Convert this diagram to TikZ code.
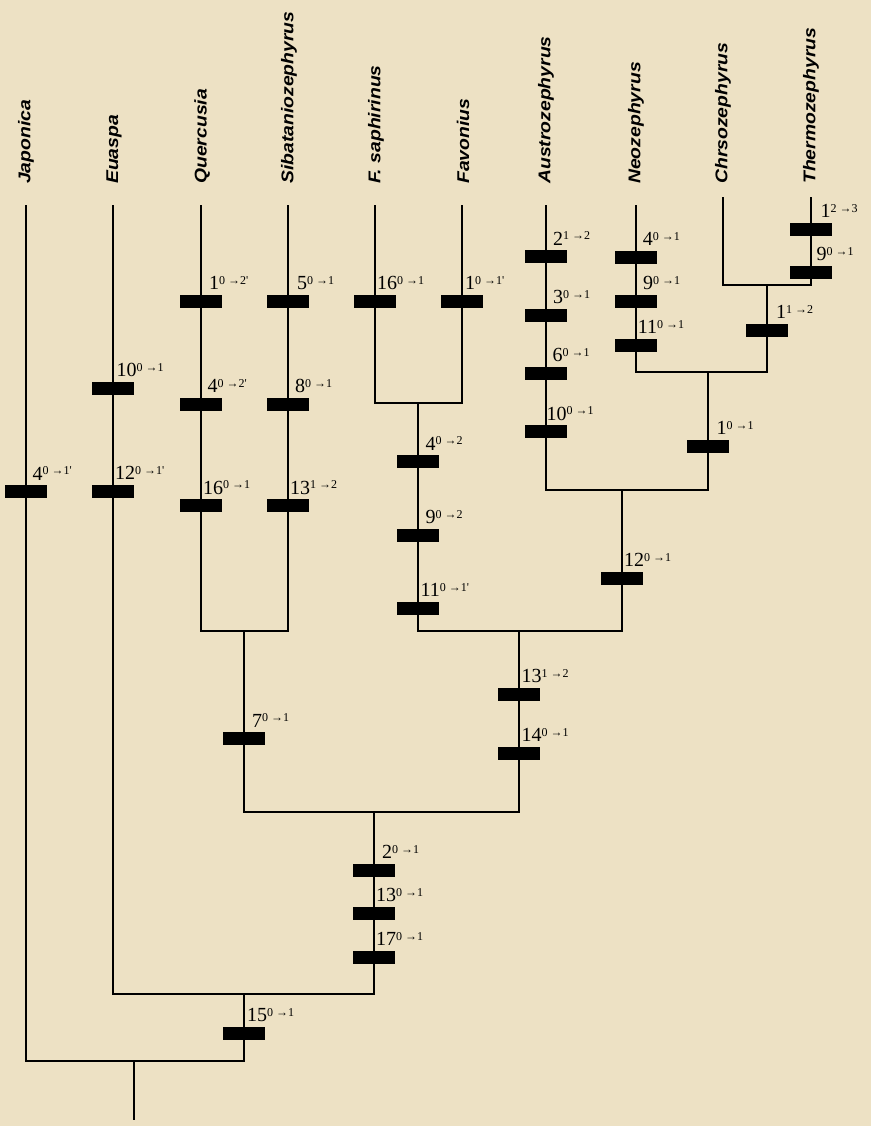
\documentclass[tikz,border=0pt]{standalone}
\usepackage{fontspec}
\setmainfont{Liberation Serif}
\newfontfamily\taxfont[FakeStretch=1.14]{Liberation Sans}
\definecolor{paper}{RGB}{237,225,196}
\newcommand\pr{\textquotesingle}
\newcommand\chg[3]{#1\raisebox{5.5pt}{\fontsize{12}{12}\selectfont #2\hspace{3pt}{\fontsize{12}{12}\selectfont →}#3}}
\newcommand\mut[5]{\node[bar] (#1) at (#2,#3) {};
  \node[lab] (#1l) at ([xshift=#4pt,yshift=11.5pt]#1.center) {#5};}
\tikzset{
  bar/.style={rectangle,fill=black,draw=none,inner sep=0pt,minimum width=42pt,minimum height=13pt},
  lab/.style={inner sep=0pt,anchor=base west,font=\fontsize{20}{20}\selectfont},
  taxon/.style={rotate=90,anchor=west,inner sep=0pt,font=\taxfont\bfseries\itshape\fontsize{17}{17}\selectfont},
  branch/.style={line width=2pt,draw=black}
}
\begin{document}
\begin{tikzpicture}[x=1pt,y=-1pt]
\fill[paper] (0,0) rectangle (871,1126);
% taxon names
\node[taxon] (nJ) at (26,184) {Japonica};
\node[taxon] (nE) at (114,184) {Euaspa};
\node[taxon] (nQ) at (202,184) {Quercusia};
\node[taxon] (nS) at (289,184) {Sibataniozephyrus};
\node[taxon] (nFs) at (376,184) {F. saphirinus};
\node[taxon] (nFv) at (463,184) {Favonius};
\node[taxon] (nAu) at (546,184) {Austrozephyrus};
\node[taxon] (nNe) at (636,184) {Neozephyrus};
\node[taxon] (nCh) at (723,184) {Chrsozephyrus};
\node[taxon] (nTh) at (811,184) {Thermozephyrus};
% tips
\coordinate (J) at (26,205);
\coordinate (E) at (113,205);
\coordinate (Q) at (201,205);
\coordinate (S) at (288,205);
\coordinate (Fs) at (375,205);
\coordinate (Fv) at (462,205);
\coordinate (Au) at (546,205);
\coordinate (Ne) at (636,205);
\coordinate (Ch) at (723,197);
\coordinate (Th) at (811,197);
% junctions
\coordinate (nR) at (134,1061);
\coordinate (base) at (134,1120);
\coordinate (n8) at (244,994);
\coordinate (n7) at (374,812);
\coordinate (n6) at (244,631);
\coordinate (n5) at (519,631);
\coordinate (n4) at (418,403);
\coordinate (n3) at (622,490);
\coordinate (n2) at (708,372);
\coordinate (n1) at (767,285);
% branches
\draw[branch] (J) |- (nR) -| (n8);
\draw[branch] (nR) -- (base);
\draw[branch] (E) |- (n8) -| (n7);
\draw[branch] (n6) |- (n7) -| (n5);
\draw[branch] (Q) |- (n6) -| (S);
\draw[branch] (n4) |- (n5) -| (n3);
\draw[branch] (Fs) |- (n4) -| (Fv);
\draw[branch] (Au) |- (n3) -| (n2);
\draw[branch] (Ne) |- (n2) -| (n1);
\draw[branch] (Ch) |- (n1) -| (Th);
% character changes
\mut{bJ}{26}{491.5}{6.5}{\chg{4}{0}{1\pr}}
\mut{bE1}{113}{388}{3.5}{\chg{10}{0}{1}}
\mut{bE2}{113}{491}{2}{\chg{12}{0}{1\pr}}
\mut{bQ1}{201}{301}{8}{\chg{1}{0}{2\pr}}
\mut{bQ2}{201}{404}{6.5}{\chg{4}{0}{2\pr}}
\mut{bQ3}{201}{505.5}{2}{\chg{16}{0}{1}}
\mut{bS1}{288}{301}{9}{\chg{5}{0}{1}}
\mut{bS2}{288}{404}{7}{\chg{8}{0}{1}}
\mut{bS3}{288}{505.5}{2}{\chg{13}{1}{2}}
\mut{bFs}{375}{301}{2}{\chg{16}{0}{1}}
\mut{bFv}{462}{301}{3}{\chg{1}{0}{1\pr}}
\mut{b41}{418}{461.5}{7.5}{\chg{4}{0}{2}}
\mut{b42}{418}{535}{7.5}{\chg{9}{0}{2}}
\mut{b43}{418}{608}{2.3}{\chg{11}{0}{1\pr}}
\mut{bAu1}{546}{256.5}{7}{\chg{2}{1}{2}}
\mut{bAu2}{546}{315}{7}{\chg{3}{0}{1}}
\mut{bAu3}{546}{373}{6.5}{\chg{6}{0}{1}}
\mut{bAu4}{546}{431.5}{0.5}{\chg{10}{0}{1}}
\mut{bNe1}{636}{257}{6.7}{\chg{4}{0}{1}}
\mut{bNe2}{636}{301}{7}{\chg{9}{0}{1}}
\mut{bNe3}{636}{345}{1.7}{\chg{11}{0}{1}}
\mut{bTh1}{811}{229}{9.5}{\chg{1}{2}{3}}
\mut{bTh2}{811}{272}{5.5}{\chg{9}{0}{1}}
\mut{b11}{767}{330}{9}{\chg{1}{1}{2}}
\mut{b21}{708}{446}{8.5}{\chg{1}{0}{1}}
\mut{b31}{622}{578}{2}{\chg{12}{0}{1}}
\mut{b61}{244}{738.5}{8}{\chg{7}{0}{1}}
\mut{b51}{519}{694}{2.4}{\chg{13}{1}{2}}
\mut{b52}{519}{753}{2.4}{\chg{14}{0}{1}}
\mut{b71}{374}{870}{8}{\chg{2}{0}{1}}
\mut{b72}{374}{913}{2}{\chg{13}{0}{1}}
\mut{b73}{374}{957}{2}{\chg{17}{0}{1}}
\mut{b81}{244}{1033}{3}{\chg{15}{0}{1}}
\end{tikzpicture}
\end{document}
